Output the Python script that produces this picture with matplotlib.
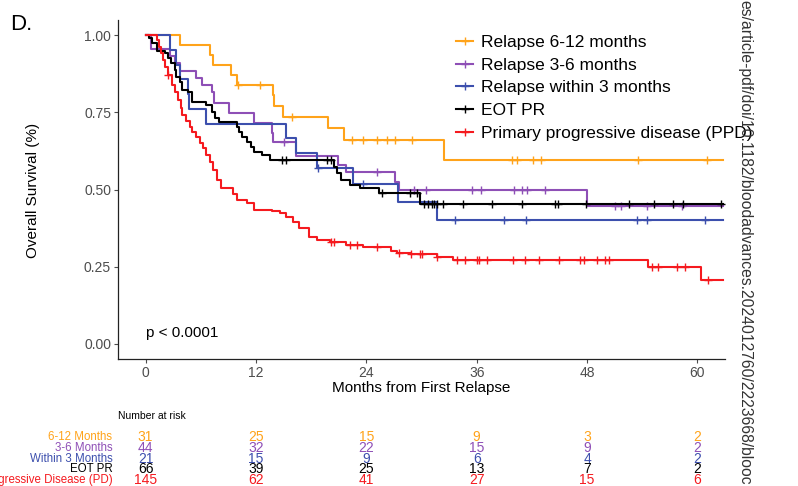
import numpy as np
import matplotlib.pyplot as plt
from matplotlib.lines import Line2D

plt.rcParams['font.family'] = ['Liberation Sans', 'DejaVu Sans']

## Curvas de Kaplan-Meier (tempo do evento, sobrevida após o evento)
t_612 = [3.7, 7.0, 7.3, 9.3, 9.9, 13.8, 14.0, 14.9, 19.8, 21.6, 32.5]
s_612 = [0.968, 0.935, 0.903, 0.871, 0.838, 0.806, 0.770, 0.735, 0.698, 0.660, 0.595]
c_612 = [10.0, 12.4, 15.9, 22.4, 23.6, 25.2, 26.3, 27.1, 29.0, 39.8, 40.4, 42.1, 43.0, 53.5, 61.0]

t_36 = [0.6, 2.6, 3.2, 3.7, 5.5, 6.1, 7.2, 7.4, 9.1, 11.8, 13.7, 13.9, 16.4, 20.9, 21.8, 27.1, 27.6, 48.0]
s_36 = [0.955, 0.932, 0.909, 0.886, 0.861, 0.838, 0.816, 0.780, 0.748, 0.715, 0.683, 0.654, 0.610, 0.579, 0.557, 0.524, 0.498, 0.445]
c_36 = [15.1, 25.2, 29.2, 30.5, 35.5, 36.5, 40.1, 40.9, 41.5, 43.4, 51.0, 51.7, 54.5, 58.3]

t_3 = [2.6, 3.3, 3.7, 4.6, 4.7, 6.6, 15.3, 16.4, 18.6, 22.5, 27.4, 31.7]
s_3 = [0.952, 0.905, 0.857, 0.810, 0.762, 0.714, 0.667, 0.619, 0.571, 0.517, 0.459, 0.402]
c_3 = [18.7, 23.6, 33.6, 39.0, 41.4, 53.4, 54.5, 60.8]

t_eot = [0.4, 0.7, 1.2, 2.1, 2.4, 2.8, 3.2, 3.3, 3.7, 4.0, 4.6, 5.1, 6.6, 7.2, 7.5, 8.0,
         9.9, 10.2, 10.5, 11.0, 11.5, 11.8, 12.7, 13.5, 20.5, 20.8, 21.3, 22.2, 23.3, 25.4, 29.8]
s_eot = [0.990, 0.974, 0.951, 0.942, 0.926, 0.909, 0.887, 0.864, 0.848, 0.822, 0.816, 0.783, 0.773, 0.751, 0.731, 0.718,
         0.702, 0.686, 0.670, 0.654, 0.638, 0.621, 0.612, 0.595, 0.573, 0.553, 0.531, 0.515, 0.505, 0.489, 0.453]
c_eot = [14.8, 15.3, 19.7, 20.2, 25.7, 28.7, 29.5, 30.3, 30.7, 31.1, 31.4, 31.7, 32.3, 34.5, 37.7, 40.9,
         44.5, 44.8, 47.9, 52.6, 55.3, 57.3, 58.4, 62.6]

t_pd = [1.2, 1.5, 1.7, 1.9, 2.1, 2.4, 2.9, 3.2, 3.5, 3.8, 4.0, 4.4, 4.8, 5.1, 5.5, 5.9, 6.2, 6.6, 7.0, 7.3,
        7.8, 8.2, 9.5, 9.9, 11.0, 11.8, 13.7, 14.6, 15.3, 16.0, 16.7, 17.8, 18.6, 20.0, 21.8, 23.6,
        26.7, 27.3, 28.9, 31.7, 33.4, 54.6, 60.4]
s_pd = [0.984, 0.964, 0.942, 0.919, 0.896, 0.871, 0.838, 0.816, 0.790, 0.764, 0.741, 0.722, 0.702, 0.686, 0.670, 0.650, 0.634, 0.612, 0.589, 0.563,
        0.531, 0.505, 0.485, 0.466, 0.456, 0.434, 0.430, 0.424, 0.411, 0.395, 0.375, 0.346, 0.336, 0.330, 0.320, 0.312,
        0.301, 0.293, 0.290, 0.281, 0.270, 0.247, 0.205]
c_pd = [2.4, 20.2, 20.5, 22.2, 23.0, 25.2, 27.5, 28.9, 29.8, 30.0, 31.7, 33.9, 34.7, 36.0, 36.2, 37.1, 39.9,
        41.2, 42.8, 45.0, 47.2, 47.7, 49.1, 49.9, 50.4, 55.1, 55.7, 57.8, 58.6, 61.1]

t_fim = 62.8   # último seguimento

## Tabela de número em risco
risk_times = [0, 12, 24, 36, 48, 60]
risk_612 = [31, 25, 15, 9, 3, 2]
risk_36 = [44, 32, 22, 15, 9, 2]
risk_3 = [21, 15, 9, 6, 4, 2]
risk_eot = [66, 39, 25, 13, 7, 2]
risk_pd = [145, 62, 41, 27, 15, 6]

legend_labels = ['Relapse 6-12 months', 'Relapse 3-6 months', 'Relapse within 3 months',
                 'EOT PR', 'Primary progressive disease (PPD)']
risk_labels = ['6-12 Months', '3-6 Months', 'Within 3 Months', 'EOT PR',
               'Primary Progressive Disease (PD)']
cores = ['#FFA31A', '#8E4FB6', '#3C4FAD', '#000000', '#F51A1F']

grupos = [(t_612, s_612, c_612), (t_36, s_36, c_36), (t_3, s_3, c_3),
          (t_eot, s_eot, c_eot), (t_pd, s_pd, c_pd)]
riscos = [risk_612, risk_36, risk_3, risk_eot, risk_pd]

fig = plt.figure(figsize=(7.98, 4.86), dpi=100)
ax = fig.add_axes([118/798, 1 - 359/486, 607/798, 339/486])

for (tt, ss, cc), cor in zip(grupos, cores):
    x = np.r_[0, tt, t_fim]
    y = np.r_[1.0, ss, ss[-1]]
    ax.step(x, y, where='post', color=cor, lw=1.5)
    # marcas de censura na altura da curva
    idx = np.searchsorted(x, cc, side='right') - 1
    ax.plot(cc, y[idx], ls='none', marker='+', ms=6, mew=1.0, color=cor)

ax.set_xlim(-3, 63)
ax.set_ylim(-0.05, 1.05)
ax.set_xticks(risk_times)
ax.set_yticks([0, 0.25, 0.5, 0.75, 1.0])
ax.set_yticklabels(['0.00', '0.25', '0.50', '0.75', '1.00'])
ax.tick_params(colors='#4D4D4D', labelsize=10, length=3, width=0.8, pad=2)
for lado in ['top', 'right']:
    ax.spines[lado].set_visible(False)
for lado in ['left', 'bottom']:
    ax.spines[lado].set_linewidth(0.9)
    ax.spines[lado].set_color('#222222')

ax.text(0, 0.035, 'p < 0.0001', fontsize=11, ha='left', va='center')

handles = [Line2D([], [], color=c, lw=1.5, marker='+', ms=6, mew=1.0) for c in cores]
ax.legend(handles, legend_labels, loc='upper left', bbox_to_anchor=(456/798, 1 - 35/486),
          bbox_transform=fig.transFigure, frameon=False, fontsize=12.5,
          handlelength=1.0, handletextpad=0.45, labelspacing=0.43,
          borderpad=0, borderaxespad=0)

fig.text(421/798, 1 - 388/486, 'Months from First Relapse', ha='center', va='center', fontsize=11)
fig.text(33/798, 1 - 190/486, 'Overall Survival (%)', ha='center', va='center',
         rotation=90, fontsize=11)
fig.text(10/798, 1 - 25/486, 'D.', ha='left', va='center', fontsize=16)

# tabela de risco
axr = fig.add_axes([118/798, 0.6/486, 607/798, 53.75/486])
axr.set_xlim(-3, 63)
axr.set_ylim(4.5, -0.5)
axr.axis('off')
for i, (lab, cor, nums) in enumerate(zip(risk_labels, cores, riscos)):
    axr.text(-3.6, i, lab, color=cor, ha='right', va='center', fontsize=8.3, clip_on=False)
    for xt, n in zip(risk_times, nums):
        axr.text(xt, i, str(n), color=cor, ha='center', va='center', fontsize=10,
                 clip_on=False)
fig.text(118/798, 1 - 416/486, 'Number at risk', ha='left', va='center', fontsize=7.5)

# texto vertical de download na margem
fig.text(745/798, 1.0, 'es/article-pdf/doi/10.1182/bloodadvances.2024012760/2223668/blooc',
         rotation=-90, ha='center', va='top', fontsize=11.3, color='#333333')

fig.savefig('out.png', dpi=100)
